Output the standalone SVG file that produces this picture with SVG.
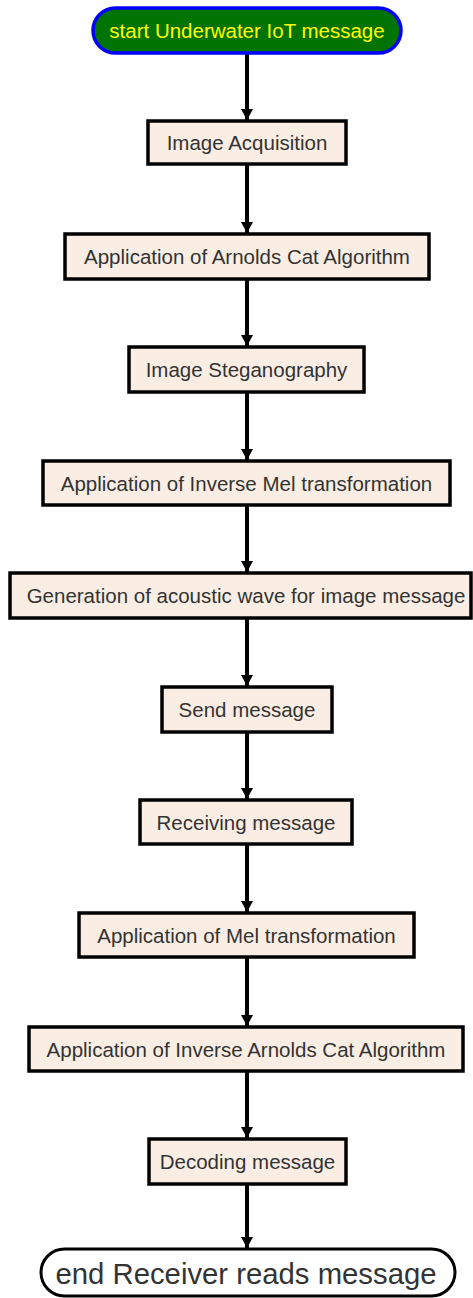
<svg xmlns="http://www.w3.org/2000/svg" width="473" height="1298" viewBox="0 0 473 1298">
<style>
.box{fill:#faeee4;stroke:#000;stroke-width:3.5}
.t{font-family:"Liberation Sans",Arial,sans-serif;font-size:20.5px;fill:#333;text-anchor:middle;dominant-baseline:central}
.c{stroke:#000;stroke-width:4;fill:none;marker-end:url(#ah)}
</style>
<defs>
<marker id="ah" markerUnits="userSpaceOnUse" markerWidth="14" markerHeight="12" refX="11" refY="6" orient="auto">
<path d="M0,0 L11,6 L0,12 Z" fill="#000"/>
</marker>
</defs>
<rect width="473" height="1298" fill="#fff"/>
<g id="connectors">
<line class="c" x1="247" y1="53" x2="247" y2="120"/>
<line class="c" x1="247" y1="164" x2="247" y2="233"/>
<line class="c" x1="247" y1="279" x2="247" y2="346"/>
<line class="c" x1="247" y1="392" x2="247" y2="460"/>
<line class="c" x1="247" y1="505" x2="247" y2="572"/>
<line class="c" x1="247" y1="618" x2="247" y2="686"/>
<line class="c" x1="247" y1="732" x2="247" y2="799"/>
<line class="c" x1="247" y1="844" x2="247" y2="912"/>
<line class="c" x1="247" y1="957" x2="247" y2="1026"/>
<line class="c" x1="247" y1="1071" x2="247" y2="1138"/>
<line class="c" x1="247" y1="1184" x2="247" y2="1248"/>
</g>
<g id="start">
<rect x="93" y="8" width="308" height="45" rx="22.5" fill="#007300" stroke="#0000ff" stroke-width="3.5"/>
<text class="t" x="247" y="30.5" style="fill:#ffff00">start Underwater IoT message</text>
</g>
<g id="n1"><rect class="box" x="148" y="121" width="198" height="43"/><text class="t" x="247" y="142.5">Image Acquisition</text></g>
<g id="n2"><rect class="box" x="65" y="234" width="364" height="45"/><text class="t" x="247" y="256.5">Application of Arnolds Cat Algorithm</text></g>
<g id="n3"><rect class="box" x="129" y="347" width="235" height="45"/><text class="t" x="246.5" y="369.5">Image Steganography</text></g>
<g id="n4"><rect class="box" x="43" y="461" width="407" height="44"/><text class="t" x="246.5" y="483">Application of Inverse Mel transformation</text></g>
<g id="n5"><rect class="box" x="10" y="573" width="461" height="45"/><text class="t" x="246" y="595.5">Generation of acoustic wave for image message</text></g>
<g id="n6"><rect class="box" x="162" y="687" width="170" height="45"/><text class="t" x="247" y="709.5">Send message</text></g>
<g id="n7"><rect class="box" x="140" y="800" width="212" height="44"/><text class="t" x="246" y="822">Receiving message</text></g>
<g id="n8"><rect class="box" x="79" y="913" width="335" height="44"/><text class="t" x="246.5" y="935">Application of Mel transformation</text></g>
<g id="n9"><rect class="box" x="29" y="1027" width="434" height="44"/><text class="t" x="246" y="1049">Application of Inverse Arnolds Cat Algorithm</text></g>
<g id="n10"><rect class="box" x="149" y="1139" width="197" height="45"/><text class="t" x="247.5" y="1161.5">Decoding message</text></g>
<g id="end">
<rect x="41" y="1249" width="414" height="47" rx="23.5" fill="#fff" stroke="#000" stroke-width="3"/>
<text class="t" x="246" y="1273" style="font-size:29.3px">end Receiver reads message</text>
</g>
</svg>
